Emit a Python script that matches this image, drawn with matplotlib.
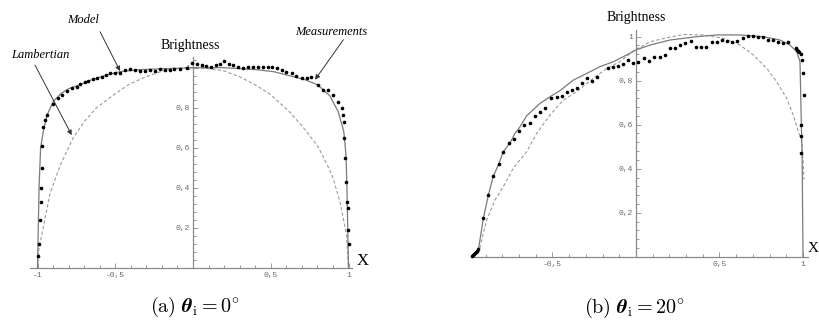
import matplotlib
matplotlib.use("Agg")
import matplotlib.pyplot as plt
import numpy as np
from matplotlib.ticker import FixedLocator

plt.rcParams["mathtext.fontset"] = "cm"

# ---------------- data: panel (a), theta_i = 0 ----------------
a_model_x = [-1.0, -0.995, -0.99, -0.98, -0.963, -0.94, -0.90, -0.85, -0.80, -0.727,
             -0.65, -0.55, -0.47, -0.35, -0.19, 0.0, 0.2, 0.41, 0.52, 0.62, 0.72,
             0.80, 0.88, 0.934, 0.97, 0.984, 0.99, 0.995, 1.0]
a_model_y = [0.0, 0.2, 0.4, 0.6, 0.68, 0.76, 0.83, 0.87, 0.895, 0.915,
             0.94, 0.965, 0.98, 0.99, 0.995, 1.0, 1.0, 0.99, 0.98, 0.96, 0.94,
             0.915, 0.86, 0.78, 0.68, 0.56, 0.4, 0.2, 0.0]

a_lamb_x = [-1.0, -0.99, -0.963, -0.92, -0.855, -0.77, -0.70, -0.62, -0.5, -0.405,
            -0.3, -0.19, -0.1, 0.0, 0.1, 0.195, 0.3, 0.41, 0.5, 0.62, 0.7, 0.80,
            0.86, 0.90, 0.945, 0.988, 1.0]
a_lamb_y = [0.0, 0.1, 0.2, 0.37, 0.51, 0.65, 0.73, 0.8, 0.87, 0.92,
            0.955, 0.985, 0.995, 1.0, 0.995, 0.985, 0.955, 0.91, 0.865, 0.78, 0.71, 0.61,
            0.52, 0.45, 0.33, 0.16, 0.0]

a_meas_x = [-0.995, -0.99, -0.984, -0.979, -0.977, -0.973, -0.969, -0.963, -0.95, -0.94,
            -0.898, -0.866, -0.84, -0.81, -0.78, -0.748, -0.727, -0.695, -0.673, -0.641,
            -0.62, -0.587, -0.56, -0.534, -0.50, -0.47, -0.437, -0.405, -0.37, -0.34,
            -0.31, -0.275, -0.245, -0.21, -0.18, -0.15, -0.12, -0.085, -0.04, -0.008,
            0.025, 0.055, 0.085, 0.114, 0.145, 0.175, 0.2, 0.233, 0.258, 0.29,
            0.32, 0.355, 0.385, 0.415, 0.45, 0.48, 0.51, 0.54, 0.57, 0.6,
            0.635, 0.665, 0.7, 0.73, 0.757, 0.806, 0.838, 0.87, 0.902, 0.934,
            0.956, 0.962, 0.971, 0.973, 0.977, 0.984, 0.99, 0.995, 0.999, 1.003]
a_meas_y = [0.06, 0.12, 0.24, 0.33, 0.40, 0.50, 0.61, 0.705, 0.74, 0.765,
            0.82, 0.847, 0.864, 0.883, 0.897, 0.905, 0.917, 0.927, 0.933, 0.943,
            0.947, 0.955, 0.962, 0.972, 0.975, 0.975, 0.988, 0.993, 0.99, 0.985,
            0.985, 0.99, 0.985, 0.993, 0.988, 0.99, 0.993, 0.993, 1.0, 1.022,
            1.02, 1.015, 1.01, 1.005, 1.012, 1.018, 1.033, 1.02, 1.012, 1.005,
            1.0, 1.005, 1.005, 1.005, 1.005, 1.005, 1.005, 0.997, 0.99, 0.98,
            0.972, 0.96, 0.947, 0.947, 0.955, 0.913, 0.889, 0.889, 0.864, 0.83,
            0.797, 0.764, 0.73, 0.647, 0.547, 0.43, 0.33, 0.30, 0.19, 0.12]

# ---------------- data: panel (b), theta_i = 20 ----------------
b_model_x = [-0.984, -0.944, -0.914, -0.884, -0.854, -0.824, -0.795, -0.754, -0.725,
             -0.695, -0.655, -0.575, -0.515, -0.455, -0.375, -0.295, -0.216, -0.136,
             -0.056, 0.0, 0.084, 0.204, 0.363, 0.483, 0.623, 0.762, 0.862, 0.922,
             0.962, 0.982, 0.986, 0.99, 0.995, 1.0]
b_model_y = [0.0, 0.03, 0.175, 0.28, 0.367, 0.417, 0.477, 0.518, 0.56,
             0.59, 0.64, 0.697, 0.727, 0.755, 0.803, 0.833, 0.864, 0.886,
             0.917, 0.94, 0.962, 0.985, 1.0, 1.008, 1.008, 1.0, 0.985, 0.962,
             0.932, 0.886, 0.75, 0.6, 0.45, 0.0]

b_lamb_x = [-0.944, -0.894, -0.844, -0.795, -0.735, -0.655, -0.595, -0.515, -0.435,
            -0.355, -0.255, -0.175, -0.096, -0.016, 0.084, 0.184, 0.283, 0.403,
            0.523, 0.623, 0.703, 0.783, 0.843, 0.902, 0.942, 0.972, 0.992, 1.0, 1.006]
b_lamb_y = [0.015, 0.167, 0.258, 0.318, 0.402, 0.477, 0.56, 0.644, 0.712,
            0.75, 0.811, 0.856, 0.886, 0.935, 0.977, 0.995, 1.01, 1.008,
            0.993, 0.962, 0.917, 0.856, 0.795, 0.72, 0.644, 0.568, 0.53, 0.44, 0.35]

b_meas_x = [-0.98, -0.975, -0.97, -0.965, -0.96, -0.95, -0.944,
            -0.914, -0.884, -0.854, -0.82, -0.795, -0.759, -0.731, -0.699, -0.669,
            -0.635, -0.605, -0.575, -0.545, -0.511, -0.475, -0.445, -0.415, -0.385,
            -0.355, -0.325, -0.291, -0.265, -0.235, -0.166, -0.136, -0.106, -0.076,
            -0.046, -0.016, 0.014, 0.048, 0.08, 0.108, 0.144, 0.174, 0.204, 0.234,
            0.263, 0.293, 0.328, 0.359, 0.389, 0.419, 0.453, 0.483, 0.513, 0.543,
            0.573, 0.603, 0.639, 0.669, 0.699, 0.729, 0.759, 0.789, 0.819, 0.849,
            0.878, 0.912, 0.958, 0.965, 0.972, 0.978, 0.986, 0.992, 0.998, 1.006,
            0.991, 0.991, 0.991]
b_meas_y = [0.005, 0.01, 0.012, 0.015, 0.02, 0.025, 0.035,
            0.175, 0.28, 0.367, 0.42, 0.477, 0.518, 0.534, 0.571, 0.599,
            0.606, 0.641, 0.656, 0.677, 0.723, 0.727, 0.732, 0.75, 0.758,
            0.768, 0.788, 0.814, 0.799, 0.818, 0.859, 0.864, 0.868, 0.874,
            0.894, 0.879, 0.886, 0.902, 0.89, 0.909, 0.909, 0.917, 0.947, 0.95,
            0.962, 0.97, 0.98, 0.955, 0.955, 0.955, 0.977, 0.977, 0.985, 0.98,
            0.974, 0.98, 0.995, 1.003, 1.003, 1.0, 1.0, 0.985, 0.985, 0.977,
            0.97, 0.974, 0.95, 0.94, 0.935, 0.93, 0.92, 0.894, 0.834, 0.735,
            0.6, 0.55, 0.47]

y_ticks = [0.2, 0.4, 0.6, 0.8, 1.0]
y_tick_labels = ["0,2", "0,4", "0,6", "0,8", "1"]
x_ticks = [-1.0, -0.5, 0.5, 1.0]
x_tick_labels = ["-1", "-0,5", "0,5", "1"]

W, H = 819, 327
fig = plt.figure(figsize=(W / 100, H / 100), dpi=100)

AXIS_GRAY = "#8a8a8a"
MODEL_GRAY = "#7a7a7a"
LAMB_GRAY = "#9a9a9a"
SERIF = ["Liberation Serif", "DejaVu Serif"]


def make_axes(px0, py0, sx, sy, xlim, ylim):
    """Axes whose data origin lands at pixel (px0, py0) with sx, sy px per unit."""
    left = px0 + sx * xlim[0]
    right = px0 + sx * xlim[1]
    top = py0 - sy * ylim[1]
    bottom = py0 - sy * ylim[0]
    ax = fig.add_axes([left / W, 1 - bottom / H, (right - left) / W, (bottom - top) / H])
    ax.set_xlim(*xlim)
    ax.set_ylim(*ylim)
    ax.patch.set_visible(False)
    return ax


def style_axes(ax, xbounds, ybounds, show_xlabel):
    for s in ("top", "right"):
        ax.spines[s].set_visible(False)
    ax.spines["left"].set_position(("data", 0))
    ax.spines["bottom"].set_position(("data", 0))
    ax.spines["left"].set_bounds(*ybounds)
    ax.spines["bottom"].set_bounds(*xbounds)
    for s in ("left", "bottom"):
        ax.spines[s].set_color(AXIS_GRAY)
        ax.spines[s].set_linewidth(0.9)
    ax.yaxis.set_major_locator(FixedLocator(y_ticks))
    ax.set_yticklabels(y_tick_labels)
    ax.yaxis.set_minor_locator(FixedLocator(np.arange(0.04, ybounds[1], 0.04)))
    keep = [i for i, t in enumerate(x_ticks) if show_xlabel(t)]
    ax.xaxis.set_major_locator(FixedLocator([x_ticks[i] for i in keep]))
    ax.set_xticklabels([x_tick_labels[i] for i in keep])
    minor_x = np.round(np.arange(-1.0, 1.001, 0.1), 2)
    minor_x = minor_x[(minor_x >= xbounds[0]) & (minor_x <= xbounds[1]) & (minor_x != 0)]
    ax.xaxis.set_minor_locator(FixedLocator(minor_x))
    ax.tick_params(which="both", direction="in", color=AXIS_GRAY, width=0.6)
    ax.tick_params(which="major", length=3.5, labelsize=5.8, labelcolor="#666666")
    ax.tick_params(which="minor", length=2)
    ax.tick_params(axis="y", pad=2)
    ax.tick_params(axis="x", pad=3)
    for lab in ax.get_xticklabels() + ax.get_yticklabels():
        lab.set_family(["Liberation Mono", "DejaVu Sans Mono"])
        lab.set_zorder(6)


def draw_panel(ax, mx, my, lx, ly, dx, dy):
    ax.plot(lx, ly, color=LAMB_GRAY, lw=0.8, dashes=(3, 2), zorder=2)
    ax.plot(mx, my, color=MODEL_GRAY, lw=0.9, zorder=3)
    ax.plot(dx, dy, ls="none", marker="o", ms=1.6, color="black", mec="black", zorder=4)


# panel (a)
ax1 = make_axes(193, 267.7, 155.5, 200, (-1.2, 1.25), (-0.2, 1.32))
style_axes(ax1, (-1.048, 1.02), (0, 1.055), lambda t: True)
draw_panel(ax1, a_model_x, a_model_y, a_lamb_x, a_lamb_y, a_meas_x, a_meas_y)
ax1.text(-0.02, 1.11, "Brightness", ha="center", va="center", fontsize=10, family=SERIF)
ax1.text(1.09, 0.035, "X", ha="center", va="center", fontsize=12, family=SERIF)

arrow = dict(arrowstyle="-|>", color="#333333", lw=0.7, mutation_scale=7, shrinkA=0, shrinkB=0)
ax1.annotate("", xy=(-0.469, 0.983), xytext=(-0.598, 1.18), arrowprops=arrow)
ax1.text(-0.705, 1.24, "Model", ha="center", va="center", fontsize=9, style="italic", family=SERIF)
ax1.annotate("", xy=(-0.78, 0.663), xytext=(-1.016, 1.013), arrowprops=arrow)
ax1.text(-0.984, 1.063, "Lambertian", ha="center", va="center", fontsize=9, style="italic", family=SERIF)
ax1.annotate("", xy=(0.785, 0.94), xytext=(0.967, 1.14), arrowprops=arrow)
ax1.text(0.892, 1.18, "Measurements", ha="center", va="center", fontsize=9, style="italic", family=SERIF)

# panel (b)
ax2 = make_axes(636, 256.7, 167, 220, (-1.1, 1.09), (-0.25, 1.15))
style_axes(ax2, (-0.985, 1.03), (0, 1.03), lambda t: t != -1.0)
draw_panel(ax2, b_model_x, b_model_y, b_lamb_x, b_lamb_y, b_meas_x, b_meas_y)
ax2.text(0.0, 1.085, "Brightness", ha="center", va="center", fontsize=10, family=SERIF)
ax2.text(1.058, 0.035, "X", ha="center", va="center", fontsize=11, family=SERIF, clip_on=False)

# captions
fig.text(195 / W, 1 - 307 / H, r"$(\mathrm{a})\ \boldsymbol{\theta}_{\mathrm{i}} = 0^{\circ}$",
         ha="center", va="center", fontsize=14.5)
fig.text(634 / W, 1 - 308 / H, r"$(\mathrm{b})\ \boldsymbol{\theta}_{\mathrm{i}} = 20^{\circ}$",
         ha="center", va="center", fontsize=14.5)

fig.savefig("out.png", dpi=100)
